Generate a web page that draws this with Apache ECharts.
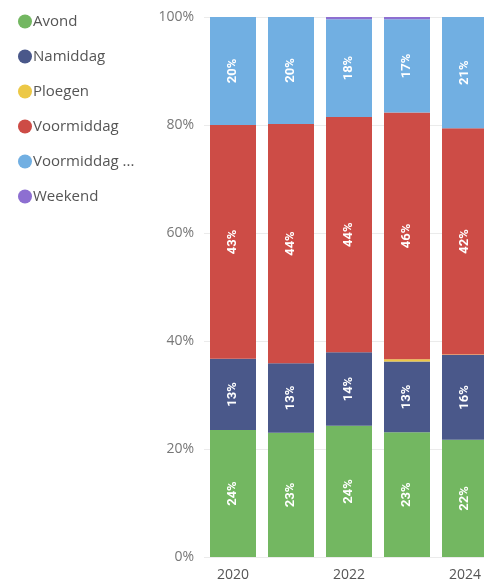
<!DOCTYPE html>
<html>
<head>
<meta charset="utf-8">
<script src="https://cdn.jsdelivr.net/npm/echarts@6/dist/echarts.min.js"></script>
<style>
  html, body { margin: 0; padding: 0; background: #ffffff; }
  #chart { width: 484px; height: 583px; }
</style>
</head>
<body>
<div id="chart"></div>
<script>
// Share of shifts per year (percent of total, 100% stacked)
const years = ['2020', '2021', '2022', '2023', '2024'];
const avond = [23.5, 23.0, 24.3, 23.1, 21.7];
const namiddag = [13.2, 12.9, 13.6, 13.1, 15.7];
const ploegen = [0, 0, 0, 0.4, 0.1];
const voormiddag = [43.3, 44.3, 43.6, 45.7, 41.9];
const voormiddagExtra = [20.0, 19.8, 18.1, 17.3, 20.6];
const weekend = [0, 0, 0.4, 0.4, 0];
const yTicks = [0, 20, 40, 60, 80, 100];

const seriesDefs = [
  { name: 'Avond', data: avond, color: '#73B761' },
  { name: 'Namiddag', data: namiddag, color: '#4A588A' },
  { name: 'Ploegen', data: ploegen, color: '#ECC846' },
  { name: 'Voormiddag', data: voormiddag, color: '#CD4C46' },
  { name: 'Voormiddag ...', data: voormiddagExtra, color: '#71AFE2' },
  { name: 'Weekend', data: weekend, color: '#8D6FD1' }
];

const chart = echarts.init(document.getElementById('chart'), null, { renderer: 'canvas' });

chart.setOption({
  backgroundColor: '#ffffff',
  animation: false,
  legend: {
    orient: 'vertical',
    left: 13,
    top: 9,
    icon: 'circle',
    itemWidth: 14,
    itemHeight: 14,
    itemGap: 20,
    textStyle: {
      fontFamily: 'Open Sans',
      fontSize: 15,
      color: '#555555',
      padding: [0, 0, 0, -4]
    },
    data: seriesDefs.map(s => s.name)
  },
  grid: {
    left: 204,
    top: 17,
    width: 290,
    bottom: 26,
    outerBoundsMode: 'none'
  },
  xAxis: {
    type: 'category',
    data: years,
    axisLine: { show: false },
    axisTick: { show: false },
    axisLabel: {
      interval: 1,
      margin: 11,
      fontFamily: 'Open Sans',
      fontSize: 14,
      color: '#555555'
    }
  },
  yAxis: {
    type: 'value',
    min: yTicks[0],
    max: yTicks[yTicks.length - 1],
    interval: 20,
    axisLine: { show: false },
    axisTick: { show: false },
    axisLabel: {
      margin: 10,
      fontFamily: 'Open Sans',
      fontSize: 14,
      color: '#777777',
      formatter: '{value}%'
    },
    splitLine: { lineStyle: { color: '#ebebeb', width: 1 } }
  },
  series: seriesDefs.map(s => ({
    name: s.name,
    type: 'bar',
    stack: 'total',
    barWidth: 46,
    data: s.data,
    itemStyle: { color: s.color },
    label: {
      show: true,
      position: 'inside',
      rotate: 90,
      color: '#ffffff',
      fontFamily: 'Roboto',
      fontWeight: 'bold',
      fontSize: 13,
      formatter: p => (p.value >= 3 ? Math.round(p.value) + '%' : '')
    }
  }))
});
</script>
</body>
</html>
